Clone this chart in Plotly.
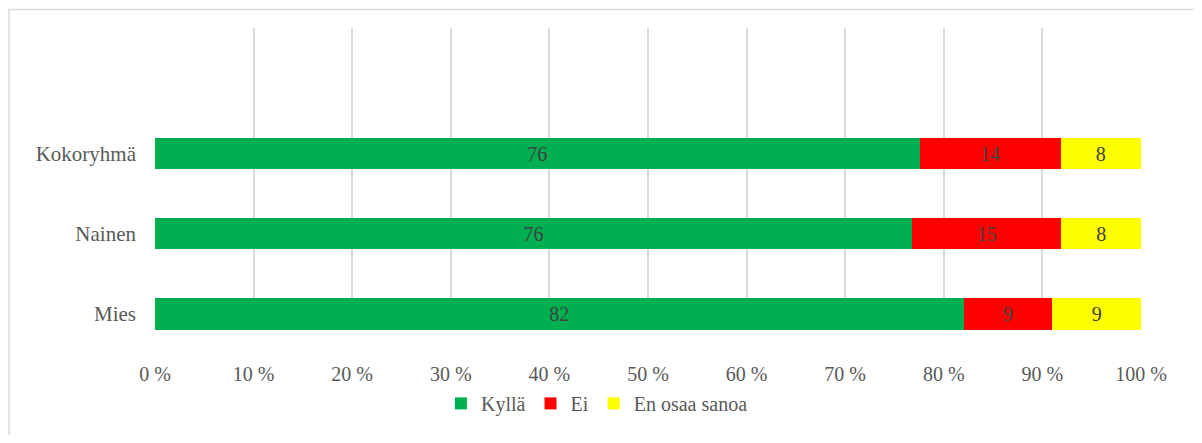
import plotly.graph_objects as go

# survey answers per group (shares in %)
groups = ['Kokoryhmä', 'Nainen', 'Mies']
kylla = [76, 76, 82]
ei = [14, 15, 9]
en_osaa = [8, 8, 9]

series_names = ['Kyllä', 'Ei', 'En osaa sanoa']
series_colors = ['#00B050', '#FF0000', '#FFFF00']

tick_vals = [0, 10, 20, 30, 40, 50, 60, 70, 80, 90, 100]
tick_text = ['0 %', '10 %', '20 %', '30 %', '40 %', '50 %', '60 %', '70 %', '80 %', '90 %', '100 %']

FONT = 'Liberation Serif'

fig = go.Figure()
for name, vals, color in zip(series_names, [kylla, ei, en_osaa], series_colors):
    fig.add_trace(go.Bar(
        y=groups,
        x=vals,
        name=name,
        orientation='h',
        marker=dict(color=color, line=dict(width=0)),
        text=vals,
        texttemplate='%{text}',
        textposition='inside',
        insidetextanchor='middle',
        textangle=0,
        constraintext='none',
        textfont=dict(family=FONT, size=20, color='#404040'),
        hoverinfo='skip',
    ))

# page body has an 8px margin, so the figure sits 8px in from the window edge
fig.update_layout(
    barmode='stack',
    barnorm='percent',
    bargap=0.61,
    width=1192,
    height=427,
    margin=dict(l=147, r=59, t=20, b=98),
    paper_bgcolor='white',
    plot_bgcolor='white',
    font=dict(family=FONT, size=20, color='#595959'),
    showlegend=True,
    legend=dict(
        orientation='h',
        x=0.29, xanchor='left',
        y=-0.243, yanchor='middle',
        font=dict(family=FONT, size=20, color='#595959'),
        itemwidth=30,
        traceorder='normal',
    ),
    xaxis=dict(
        range=[0, 100],
        tickvals=tick_vals,
        ticktext=tick_text,
        showgrid=True,
        gridcolor='#d9d9d9',
        gridwidth=1.5,
        zeroline=False,
        showline=False,
        ticks='',
        ticklabelstandoff=30,
        tickfont=dict(family=FONT, size=20, color='#595959'),
        fixedrange=True,
    ),
    yaxis=dict(
        categoryorder='array',
        categoryarray=list(reversed(groups)),
        range=[-0.2, 3.566],
        showgrid=False,
        zeroline=False,
        showline=False,
        ticks='',
        ticklabelstandoff=18,
        tickfont=dict(family=FONT, size=21, color='#595959'),
        fixedrange=True,
    ),
    shapes=[dict(
        type='rect', xref='paper', yref='paper',
        x0=-0.148, x1=1.0578, y0=-0.4, y1=1.0615,
        line=dict(color='#d9d9d9', width=1.5),
        fillcolor='rgba(0,0,0,0)',
        layer='below',
    )],
)

fig.write_html('out.html')
